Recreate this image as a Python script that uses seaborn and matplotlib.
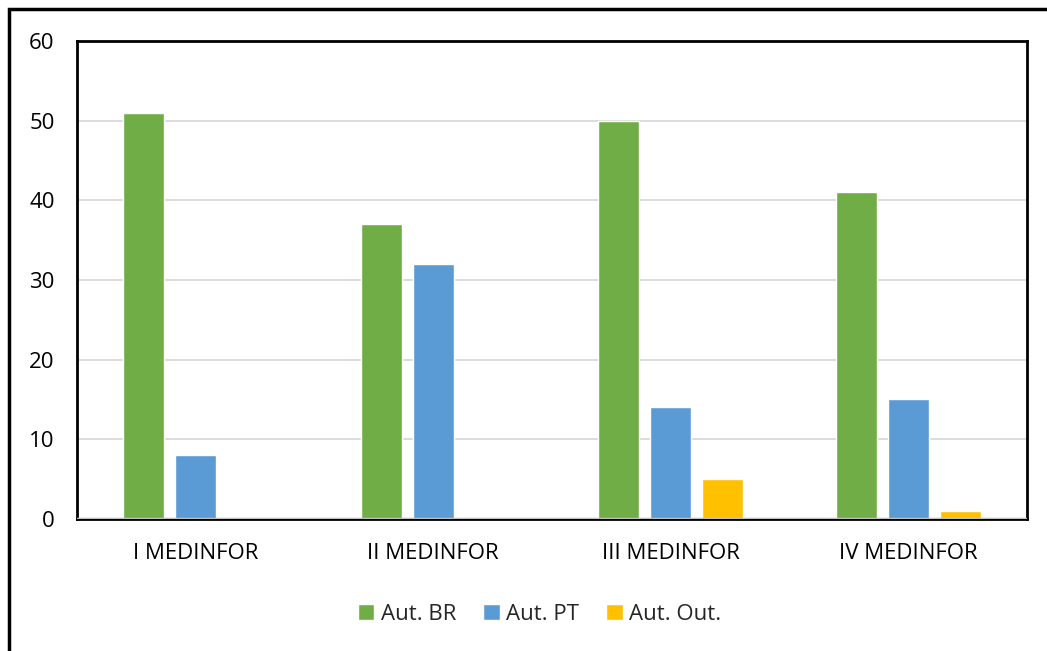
import pandas as pd
import matplotlib.pyplot as plt
import seaborn as sns
from matplotlib.patches import Rectangle

categories = ['I MEDINFOR', 'II MEDINFOR', 'III MEDINFOR', 'IV MEDINFOR']
series = ['Aut. BR', 'Aut. PT', 'Aut. Out.']
aut_br = [51, 37, 50, 41]
aut_pt = [8, 32, 14, 15]
aut_out = [0, 0, 5, 1]
colors = ['#70AD47', '#5B9BD5', '#FFC000']

df = pd.DataFrame({
    'edition': categories * 3,
    'serie': [s for s in series for _ in categories],
    'valor': aut_br + aut_pt + aut_out,
})

sns.set_style('white')
plt.rcParams['font.family'] = ['Open Sans', 'DejaVu Sans']

fig = plt.figure(figsize=(10.47, 6.51), dpi=100)
ax = fig.add_axes([0.0735, 0.2028, 0.9074, 0.7343])

sns.barplot(data=df, x='edition', y='valor', hue='serie', palette=colors,
            width=0.657, gap=0.21, saturation=1, ax=ax, zorder=3)

ax.set_ylim(0, 60)
ax.set_yticks(range(0, 61, 10))
ax.set_xlim(-0.5, 3.5)
ax.grid(axis='y', color='#D9D9D9', linewidth=1.3, zorder=0)
ax.axhline(0, color='#BFBFBF', linewidth=2.5, zorder=4)
for sp in ax.spines.values():
    sp.set_color('black')
    sp.set_linewidth(2)
ax.set_xlabel('')
ax.set_ylabel('')
ax.tick_params(axis='both', length=0, labelsize=16, colors='black')
ax.tick_params(axis='y', pad=16)
ax.tick_params(axis='x', pad=17)

handles, labels = ax.get_legend_handles_labels()
ax.legend(handles, labels, loc='center', bbox_to_anchor=(0.487, -0.2), ncol=3,
          frameon=False, fontsize=16, handlelength=0.75, handleheight=0.75,
          handletextpad=0.3, columnspacing=1.2)

fig.patches.append(Rectangle((9 / 1047, -0.1), 1.2, 1 - 9 / 651 + 0.1,
                             transform=fig.transFigure, fill=False,
                             edgecolor='black', linewidth=2.5))

fig.savefig('out.png', dpi=100)
